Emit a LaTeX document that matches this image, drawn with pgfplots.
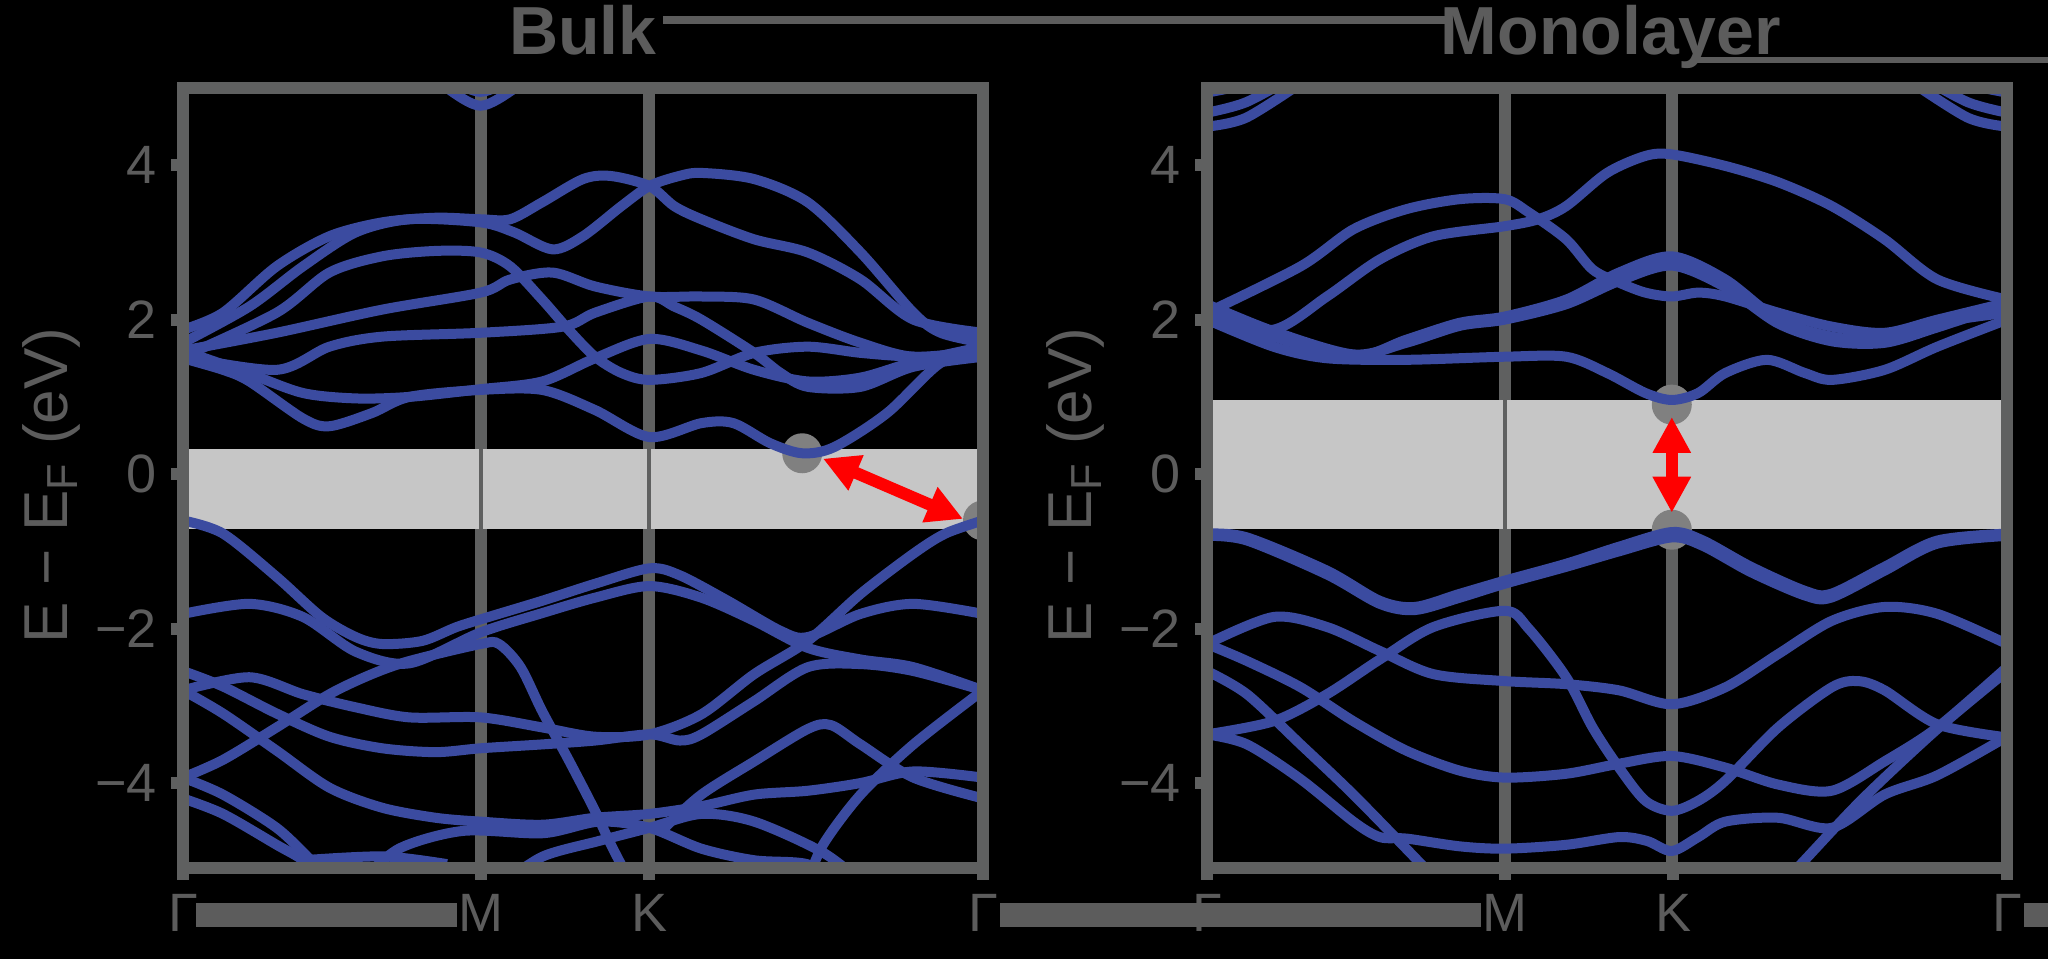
\documentclass[border=0pt]{standalone}
\usepackage{pgfplots}
\pgfplotsset{compat=1.18}
\usepackage{fontspec}
\setmainfont{Liberation Sans}
\usetikzlibrary{arrows.meta}

\definecolor{band}{RGB}{59,75,160}
\definecolor{frame}{RGB}{95,96,96}
\definecolor{txt}{RGB}{92,92,92}
\definecolor{gapgray}{RGB}{198,198,198}
\definecolor{dot}{RGB}{128,128,128}

\pgfplotsset{
  bandaxis/.style={
    scale only axis, width=200pt, height=195pt,
    xmin=0, xmax=1, ymin=-5.1, ymax=5,
    xtick={0,0.372,0.583,1},
    xticklabels={Γ,M,K,Γ},
    ytick={-4,-2,0,2,4},
    yticklabels={−4,−2,0,2,4},
    axis line style={frame, line width=3pt},
    tick style={frame, line width=3pt},
    tick align=outside, major tick length=3pt,
    tick pos=left,
    axis on top,
    ticklabel style={font=\fontsize{13.5}{16}\selectfont, text=txt},
    ylabel={E − E\textsubscript{F} (eV)},
    ylabel style={font=\fontsize{15.5}{18}\selectfont, text=txt,
      at={(axis description cs:-0.164,0.49)}, anchor=center, rotate=0},
  },
  bl/.style={band, line width=2.5pt, smooth, no marks},
}

\begin{document}
\begin{tikzpicture}
\fill[black] (-45.75pt,-22.75pt) rectangle (466.25pt,217pt);

% Bulk
\begin{axis}[bandaxis, at={(0,0)}]
\draw[frame, line width=3pt] (axis cs:0.372,-5.1) -- (axis cs:0.372,5);
\draw[frame, line width=3pt] (axis cs:0.583,-5.1) -- (axis cs:0.583,5);
\fill[gapgray] (axis cs:0,-0.71) rectangle (axis cs:1,0.33);
\draw[frame, line width=1pt] (axis cs:0.372,-0.71) -- (axis cs:0.372,0.33);
\draw[frame, line width=1pt] (axis cs:0.583,-0.71) -- (axis cs:0.583,0.33);
\fill[dot] (axis cs:0.774,0.27) circle[radius=5pt];
\fill[dot] (axis cs:1,-0.6) circle[radius=5pt];
% conduction bands
\addplot[bl] coordinates {(0.30,5.3)(0.33,5.0)(0.372,4.77)(0.415,5.0)(0.445,5.3)};
\addplot[bl] coordinates {(0.31,5.3)(0.34,5.08)(0.372,4.95)(0.405,5.08)(0.435,5.3)};
\addplot[bl] coordinates {(0,1.87)(0.05,2.09)(0.117,2.69)(0.183,3.08)(0.249,3.26)(0.316,3.32)(0.372,3.3)(0.409,3.3)(0.449,3.52)(0.5,3.82)(0.535,3.86)(0.583,3.73)(0.614,3.47)(0.648,3.3)(0.714,3.04)(0.781,2.87)(0.847,2.52)(0.913,2.0)(1,1.83)};
\addplot[bl] coordinates {(0,1.7)(0.083,2.17)(0.15,2.69)(0.216,3.13)(0.283,3.3)(0.372,3.26)(0.414,3.13)(0.462,2.91)(0.5,3.08)(0.548,3.47)(0.583,3.73)(0.62,3.86)(0.648,3.9)(0.714,3.82)(0.781,3.52)(0.847,2.87)(0.913,2.09)(0.947,1.83)(1,1.7)};
\addplot[bl] coordinates {(0,1.52)(0.117,2.09)(0.183,2.61)(0.249,2.82)(0.316,2.89)(0.372,2.87)(0.409,2.69)(0.449,2.26)(0.482,1.87)(0.515,1.52)(0.548,1.31)(0.583,1.22)(0.648,1.31)(0.714,1.57)(0.781,1.65)(0.847,1.57)(0.913,1.52)(1,1.52)};
\addplot[bl] coordinates {(0,1.6)(0.117,1.83)(0.249,2.13)(0.372,2.35)(0.409,2.52)(0.462,2.61)(0.515,2.43)(0.583,2.3)(0.648,2.3)(0.714,2.26)(0.781,1.96)(0.847,1.7)(0.913,1.52)(1,1.6)};
\addplot[bl] coordinates {(0,1.52)(0.117,1.35)(0.183,1.65)(0.249,1.78)(0.372,1.83)(0.475,1.91)(0.515,2.09)(0.583,2.3)(0.614,2.17)(0.648,2.0)(0.714,1.57)(0.747,1.31)(0.781,1.13)(0.847,1.13)(0.913,1.39)(1,1.52)};
\addplot[bl] coordinates {(0,1.6)(0.083,1.3)(0.15,1.05)(0.216,0.98)(0.283,1.0)(0.372,1.1)(0.449,1.2)(0.515,1.5)(0.583,1.75)(0.648,1.6)(0.714,1.35)(0.781,1.2)(0.847,1.25)(0.913,1.45)(1,1.65)};
\addplot[bl] coordinates {(0,1.5)(0.05,1.35)(0.083,1.2)(0.15,0.72)(0.183,0.62)(0.236,0.79)(0.283,1.0)(0.372,1.09)(0.449,1.09)(0.515,0.83)(0.583,0.48)(0.648,0.66)(0.688,0.66)(0.734,0.4)(0.774,0.27)(0.814,0.35)(0.88,0.79)(0.947,1.44)(1,1.6)};
% valence bands
\addplot[bl] coordinates {(0,-0.6)(0.05,-0.77)(0.117,-1.33)(0.173,-1.85)(0.216,-2.11)(0.249,-2.2)(0.299,-2.16)(0.342,-1.98)(0.382,-1.85)(0.449,-1.64)(0.515,-1.42)(0.583,-1.22)(0.621,-1.31)(0.681,-1.64)(0.747,-2.03)(0.781,-2.11)(0.847,-1.81)(0.913,-1.68)(1,-1.81)};
\addplot[bl] coordinates {(0,-1.81)(0.083,-1.68)(0.15,-1.85)(0.216,-2.3)(0.283,-2.45)(0.372,-2.05)(0.449,-1.8)(0.515,-1.6)(0.583,-1.45)(0.648,-1.6)(0.714,-1.9)(0.781,-2.25)(0.847,-2.4)(0.913,-2.5)(1,-2.8)};
\addplot[bl] coordinates {(0,-2.8)(0.083,-2.63)(0.15,-2.85)(0.216,-3.02)(0.283,-3.15)(0.372,-3.15)(0.449,-3.28)(0.515,-3.4)(0.583,-3.37)(0.648,-3.11)(0.714,-2.59)(0.781,-2.16)(0.847,-1.55)(0.913,-1.03)(0.953,-0.77)(1,-0.6)};
\addplot[bl] coordinates {(0,-2.55)(0.05,-2.75)(0.117,-3.1)(0.183,-3.4)(0.249,-3.55)(0.316,-3.6)(0.372,-3.55)(0.449,-3.5)(0.515,-3.45)(0.583,-3.37)(0.621,-3.45)(0.648,-3.37)(0.714,-2.94)(0.781,-2.5)(0.847,-2.46)(0.913,-2.55)(1,-2.8)};
\addplot[bl] coordinates {(0,-2.8)(0.05,-3.1)(0.117,-3.58)(0.183,-4.06)(0.249,-4.32)(0.316,-4.45)(0.372,-4.5)(0.449,-4.54)(0.515,-4.45)(0.583,-4.4)(0.648,-4.3)(0.714,-4.15)(0.781,-4.1)(0.847,-4.0)(0.913,-3.85)(1,-3.93)};
\addplot[bl] coordinates {(0,-3.93)(0.05,-3.7)(0.117,-3.28)(0.183,-2.85)(0.236,-2.59)(0.283,-2.42)(0.372,-2.2)(0.395,-2.2)(0.422,-2.5)(0.449,-3.07)(0.482,-3.7)(0.515,-4.36)(0.535,-4.8)(0.56,-5.3)};
\addplot[bl] coordinates {(0,-4.2)(0.05,-4.4)(0.117,-4.8)(0.15,-5.0)(0.18,-5.3)};
\addplot[bl] coordinates {(0,-3.93)(0.05,-4.15)(0.117,-4.58)(0.16,-5.0)(0.19,-5.3)};
\addplot[bl] coordinates {(0.78,-5.3)(0.8,-4.8)(0.847,-4.15)(0.913,-3.5)(1,-2.8)};
\addplot[bl] coordinates {(0.6,-4.6)(0.648,-4.15)(0.714,-3.72)(0.781,-3.3)(0.81,-3.25)(0.847,-3.5)(0.913,-3.93)(1,-4.2)};
\addplot[bl] coordinates {(0.4,-5.3)(0.45,-4.95)(0.52,-4.75)(0.583,-4.58)(0.648,-4.4)(0.714,-4.5)(0.8,-4.9)(0.85,-5.3)};
\addplot[bl] coordinates {(0.22,-5.3)(0.27,-4.85)(0.35,-4.62)(0.45,-4.65)(0.52,-4.5)(0.583,-4.58)(0.648,-4.85)(0.714,-5.0)(0.78,-5.05)(0.82,-5.3)};
\addplot[bl] coordinates {(0.15,-5.0)(0.25,-4.95)(0.33,-5.05)};
\draw[red, line width=3pt, {Triangle[length=9pt,width=9pt]}-{Triangle[length=9pt,width=9pt]}] (axis cs:0.80,0.20) -- (axis cs:0.975,-0.58);
\end{axis}

% Monolayer
\begin{axis}[bandaxis, at={(256pt,0)}]
\draw[frame, line width=3pt] (axis cs:0.372,-5.1) -- (axis cs:0.372,5);
\draw[frame, line width=3pt] (axis cs:0.581,-5.1) -- (axis cs:0.581,5);
\fill[gapgray] (axis cs:0,-0.71) rectangle (axis cs:1,0.96);
\draw[frame, line width=1pt] (axis cs:0.372,-0.71) -- (axis cs:0.372,0.96);
\fill[dot] (axis cs:0.581,0.9) circle[radius=5pt];
\fill[dot] (axis cs:0.581,-0.72) circle[radius=5pt];
% conduction bands
\addplot[bl] coordinates {(0,4.94)(0.05,5.05)(0.1,5.25)};
\addplot[bl] coordinates {(0,4.68)(0.05,4.82)(0.117,5.2)};
\addplot[bl] coordinates {(0,4.5)(0.05,4.62)(0.13,5.15)};
\addplot[bl] coordinates {(1,4.94)(0.95,5.05)(0.9,5.25)};
\addplot[bl] coordinates {(1,4.68)(0.95,4.82)(0.883,5.2)};
\addplot[bl] coordinates {(1,4.5)(0.95,4.62)(0.87,5.15)};
\addplot[bl] coordinates {(0,2.09)(0.117,2.69)(0.183,3.17)(0.249,3.43)(0.316,3.56)(0.372,3.56)(0.402,3.39)(0.449,3.04)(0.482,2.65)(0.515,2.48)(0.548,2.35)(0.581,2.3)(0.614,2.35)(0.648,2.3)(0.714,2.09)(0.781,1.91)(0.847,1.83)(0.913,2.0)(1,2.22)};
\addplot[bl] coordinates {(0,2.0)(0.083,1.87)(0.15,2.3)(0.216,2.78)(0.283,3.08)(0.372,3.21)(0.414,3.3)(0.449,3.47)(0.5,3.9)(0.548,4.12)(0.581,4.14)(0.648,3.99)(0.714,3.78)(0.781,3.47)(0.847,3.04)(0.913,2.52)(1,2.26)};
\addplot[bl] coordinates {(0,2.09)(0.083,1.78)(0.183,1.52)(0.249,1.74)(0.316,1.96)(0.372,2.04)(0.449,2.26)(0.515,2.61)(0.581,2.82)(0.648,2.52)(0.714,2.0)(0.781,1.78)(0.847,1.74)(0.913,1.96)(1,2.09)};
\addplot[bl] coordinates {(0,2.2)(0.083,1.85)(0.183,1.55)(0.249,1.7)(0.316,1.92)(0.372,2.0)(0.449,2.2)(0.515,2.5)(0.581,2.7)(0.648,2.42)(0.714,1.95)(0.781,1.72)(0.847,1.7)(0.913,1.9)(1,2.2)};
\addplot[bl] coordinates {(0,2.0)(0.083,1.65)(0.15,1.5)(0.249,1.48)(0.372,1.52)(0.449,1.52)(0.5,1.31)(0.548,1.05)(0.581,0.96)(0.614,1.05)(0.648,1.31)(0.7,1.48)(0.747,1.31)(0.781,1.22)(0.847,1.35)(0.913,1.65)(1,2.0)};
% valence bands
\addplot[bl] coordinates {(0,-0.77)(0.05,-0.82)(0.15,-1.25)(0.216,-1.64)(0.26,-1.72)(0.316,-1.55)(0.372,-1.38)(0.449,-1.16)(0.515,-0.94)(0.581,-0.75)(0.62,-0.86)(0.68,-1.2)(0.747,-1.51)(0.78,-1.55)(0.847,-1.2)(0.913,-0.86)(1,-0.77)};
\addplot[bl] coordinates {(0,-0.8)(0.05,-0.86)(0.15,-1.3)(0.216,-1.68)(0.26,-1.76)(0.316,-1.6)(0.372,-1.42)(0.449,-1.2)(0.515,-1.0)(0.581,-0.82)(0.62,-0.93)(0.68,-1.27)(0.747,-1.57)(0.78,-1.6)(0.847,-1.25)(0.913,-0.9)(1,-0.8)};
\addplot[bl] coordinates {(0,-2.2)(0.083,-1.85)(0.15,-1.98)(0.216,-2.29)(0.283,-2.59)(0.372,-2.68)(0.449,-2.72)(0.515,-2.8)(0.581,-2.98)(0.648,-2.76)(0.714,-2.33)(0.781,-1.9)(0.847,-1.72)(0.913,-1.81)(1,-2.2)};
\addplot[bl] coordinates {(0,-3.37)(0.083,-3.2)(0.15,-2.85)(0.216,-2.4)(0.283,-1.98)(0.372,-1.77)(0.402,-2.0)(0.449,-2.63)(0.482,-3.28)(0.515,-3.8)(0.548,-4.23)(0.581,-4.36)(0.614,-4.23)(0.648,-3.97)(0.714,-3.28)(0.781,-2.76)(0.814,-2.68)(0.847,-2.8)(0.913,-3.24)(1,-3.41)};
\addplot[bl] coordinates {(0,-2.2)(0.05,-2.42)(0.117,-2.76)(0.183,-3.2)(0.249,-3.58)(0.316,-3.84)(0.372,-3.93)(0.449,-3.88)(0.515,-3.75)(0.581,-3.65)(0.648,-3.8)(0.714,-4.02)(0.781,-4.1)(0.847,-3.72)(0.913,-3.28)(1,-2.5)};
\addplot[bl] coordinates {(0,-2.55)(0.05,-2.85)(0.117,-3.5)(0.183,-4.15)(0.263,-5.0)(0.29,-5.3)};
\addplot[bl] coordinates {(0.72,-5.3)(0.747,-5.0)(0.82,-4.2)(0.913,-3.3)(1,-2.55)};
\addplot[bl] coordinates {(0,-3.37)(0.05,-3.5)(0.117,-3.95)(0.183,-4.5)(0.216,-4.7)(0.25,-4.72)(0.316,-4.82)(0.372,-4.85)(0.449,-4.8)(0.515,-4.7)(0.55,-4.75)(0.581,-4.88)(0.614,-4.7)(0.648,-4.5)(0.714,-4.45)(0.781,-4.58)(0.847,-4.15)(0.913,-3.9)(1,-3.4)};
\draw[red, line width=3pt, {Triangle[length=9pt,width=9pt]}-{Triangle[length=9pt,width=9pt]}] (axis cs:0.581,0.74) -- (axis cs:0.581,-0.5);
\end{axis}

% titles and label bars
\node[anchor=base, font=\bfseries\fontsize{17}{20}\selectfont, text=txt] at (100pt,203.25pt) {Bulk};
\node[anchor=base, font=\bfseries\fontsize{17}{20}\selectfont, text=txt] at (357pt,203.25pt) {Monolayer};
\draw[txt, line width=2pt] (120pt,212pt) -- (317pt,212pt);
\draw[txt, line width=1.5pt] (378.5pt,202pt) -- (466.25pt,202pt);
\fill[txt] (3.25pt,-14.75pt) rectangle (68.5pt,-8.75pt);
\fill[txt] (204.25pt,-14.75pt) rectangle (324.5pt,-8.75pt);
\fill[txt] (460.25pt,-14.75pt) rectangle (466.25pt,-8.75pt);

\pgfresetboundingbox
\useasboundingbox (-45.75pt,-22.75pt) rectangle (466.25pt,217pt);
\end{tikzpicture}
\end{document}
